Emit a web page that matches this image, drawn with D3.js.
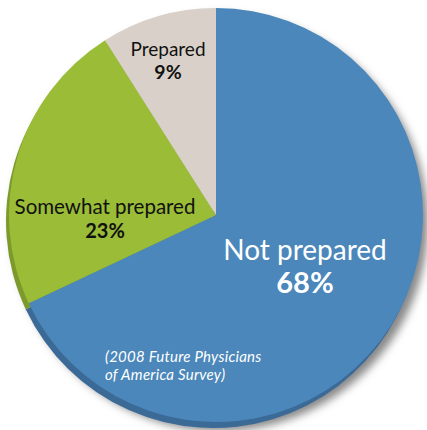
<!DOCTYPE html>
<html>
<head>
<meta charset="utf-8">
<script src="https://cdn.jsdelivr.net/npm/d3@7"></script>
<style>
  body { margin: 0; background: #fff; }
  svg text { font-family: Lato, "Open Sans", sans-serif; }
</style>
</head>
<body>
<script>
// chart data
var categories = ["Not prepared", "Somewhat prepared", "Prepared"];
var values = [68, 23, 9];
var valueLabels = ["68%", "23%", "9%"];
var note = ["(2008 Future Physicians", "of America Survey)"];

var svgWidth = 427;
var svgHeight = 430;
var cx = 216, cy = 215, radius = 207;

var faceColors = ["#4b87ba", "#9abc36", "#d9d1c9"];
var rimColors = ["#3b6a97", "#7c9a2c", "#b8b0a8"];

var svg = d3.select("body")
  .append("svg")
  .attr("width", svgWidth)
  .attr("height", svgHeight);

var defs = svg.append("defs");
defs.append("filter")
  .attr("id", "shadow")
  .attr("x", "-20%").attr("y", "-20%")
  .attr("width", "140%").attr("height", "140%")
  .append("feGaussianBlur")
  .attr("stdDeviation", 4);

var pie = d3.pie()
  .sort(null)
  .value(d => d);

var arcs = pie(values);

var arc = d3.arc()
  .innerRadius(0)
  .outerRadius(radius);

// soft shadow behind the disc
svg.append("circle")
  .attr("cx", cx + 4)
  .attr("cy", cy + 8)
  .attr("r", radius + 1)
  .attr("fill", "#888")
  .attr("filter", "url(#shadow)");

// darker rim, shifted down-left
var rimGroup = svg.append("g")
  .attr("transform", `translate(${cx - 3}, ${cy + 6})`);

rimGroup.selectAll("path")
  .data(arcs)
  .enter()
  .append("path")
  .attr("d", arc)
  .attr("fill", (d, i) => rimColors[i]);

// top face
var chartGroup = svg.append("g")
  .attr("transform", `translate(${cx}, ${cy})`);

chartGroup.selectAll("path")
  .data(arcs)
  .enter()
  .append("path")
  .attr("d", arc)
  .attr("fill", (d, i) => faceColors[i]);

// label placement (relative to centre)
var labelPos = [
  { x: 89, y: 45, size: 28, size2: 29, gap: 33, color: "#fff" },
  { x: -111, y: -1, size: 20.5, size2: 20, gap: 24, color: "#111" },
  { x: -48, y: -159, size: 19, size2: 19.5, gap: 23, color: "#111" }
];

arcs.forEach(function(d, i) {
  var p = labelPos[i];
  var t = chartGroup.append("text")
    .attr("text-anchor", "middle")
    .attr("fill", p.color);
  t.append("tspan")
    .attr("x", p.x)
    .attr("y", p.y)
    .attr("font-size", p.size)
    .text(categories[i]);
  t.append("tspan")
    .attr("x", p.x)
    .attr("y", p.y + p.gap)
    .attr("font-size", p.size2)
    .attr("font-weight", "bold")
    .text(valueLabels[i]);
});

// survey note
var noteText = chartGroup.append("text")
  .attr("fill", "#fff")
  .attr("font-style", "italic")
  .attr("font-size", 15)
  .attr("letter-spacing", 0.25);

noteText.selectAll("tspan")
  .data(note)
  .enter()
  .append("tspan")
  .attr("x", -111)
  .attr("y", (d, i) => 147 + i * 18)
  .text(d => d);
</script>
</body>
</html>
